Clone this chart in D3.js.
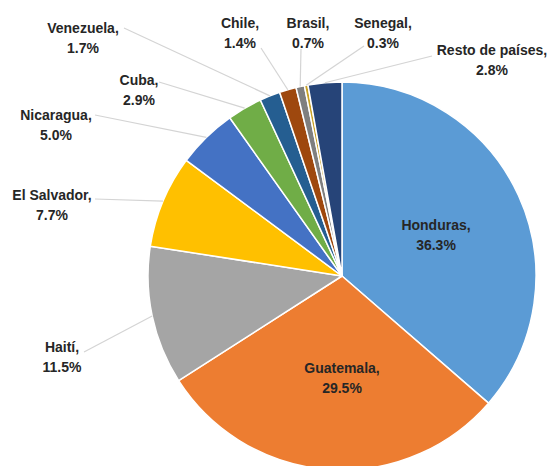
<!DOCTYPE html>
<html>
<head>
<meta charset="utf-8">
<script src="https://cdn.jsdelivr.net/npm/d3@7"></script>
<style>
  html, body { margin: 0; padding: 0; background: #ffffff; }
  svg { display: block; }
  text { font-family: "Liberation Sans", Arial, sans-serif; font-weight: bold; font-size: 14px; fill: #262626; }
</style>
</head>
<body>
<svg id="chart" width="550" height="466"></svg>
<script>
// ---- data ----
const countries = ["Honduras", "Guatemala", "Haití", "El Salvador", "Nicaragua", "Cuba", "Venezuela", "Chile", "Brasil", "Senegal", "Resto de países"];
const shares = [36.3, 29.5, 11.5, 7.7, 5.0, 2.9, 1.7, 1.4, 0.7, 0.3, 2.8];
const shareLabels = ["36.3%", "29.5%", "11.5%", "7.7%", "5.0%", "2.9%", "1.7%", "1.4%", "0.7%", "0.3%", "2.8%"];
const palette = ["#5B9BD5", "#ED7D31", "#A5A5A5", "#FFC000", "#4472C4", "#70AD47", "#255E91", "#9E480E", "#7F7F7F", "#C9A227", "#264478"];

// ---- layout (label positions; cx = text center, by = first baseline, sx/sy = leader start) ----
const labelLayout = {
  "Honduras":        { cx: 436, by: 230, inside: true },
  "Guatemala":       { cx: 342, by: 373, inside: true },
  "Haití":           { cx: 62,  by: 352, sx: 84,  sy: 352 },
  "El Salvador":     { cx: 52,  by: 200, sx: 95,  sy: 199 },
  "Nicaragua":       { cx: 56,  by: 120, sx: 95,  sy: 115 },
  "Cuba":            { cx: 139, by: 85,  sx: 159, sy: 82 },
  "Venezuela":       { cx: 83,  by: 33,  sx: 124, sy: 28 },
  "Chile":           { cx: 240, by: 28,  sx: 261, sy: 48 },
  "Brasil":          { cx: 308, by: 28,  sx: 301, sy: 49 },
  "Senegal":         { cx: 383, by: 28,  sx: 364, sy: 46 },
  "Resto de países": { cx: 492, by: 55,  sx: 432, sy: 56 }
};

const width = 550, height = 466;
const cx = 342, cy = 276, radius = 194;
const lineGap = 20;

const svg = d3.select("#chart");
const g = svg.append("g").attr("transform", `translate(${cx},${cy})`);

const data = countries.map((c, i) => ({ name: c, value: shares[i], label: shareLabels[i], color: palette[i] }));

const pie = d3.pie().sort(null).value(d => d.value);
const arcs = pie(data);
const arc = d3.arc().innerRadius(0).outerRadius(radius);
const edgeArc = d3.arc().innerRadius(radius).outerRadius(radius);

// leader lines (drawn first, beneath slices)
const leaders = svg.append("g").attr("class", "leaders");
arcs.forEach(a => {
  const L = labelLayout[a.data.name];
  if (L.inside) return;
  const [ex, ey] = edgeArc.centroid(a);
  leaders.append("line")
    .attr("x1", L.sx).attr("y1", L.sy)
    .attr("x2", cx + ex).attr("y2", cy + ey)
    .attr("stroke", "#d4d4d4").attr("stroke-width", 1.2);
});

// slices
g.selectAll("path.slice")
  .data(arcs)
  .join("path")
  .attr("class", "slice")
  .attr("d", arc)
  .attr("fill", d => d.data.color)
  .attr("stroke", "#ffffff")
  .attr("stroke-width", 1.5)
  .attr("stroke-linejoin", "round");

// labels
const labels = svg.append("g").attr("class", "labels");
arcs.forEach(a => {
  const L = labelLayout[a.data.name];
  const t = labels.append("text").attr("text-anchor", "middle");
  t.append("tspan").attr("x", L.cx).attr("y", L.by).text(a.data.name + ",");
  t.append("tspan").attr("x", L.cx).attr("y", L.by + lineGap).text(a.data.label);
});
</script>
</body>
</html>
